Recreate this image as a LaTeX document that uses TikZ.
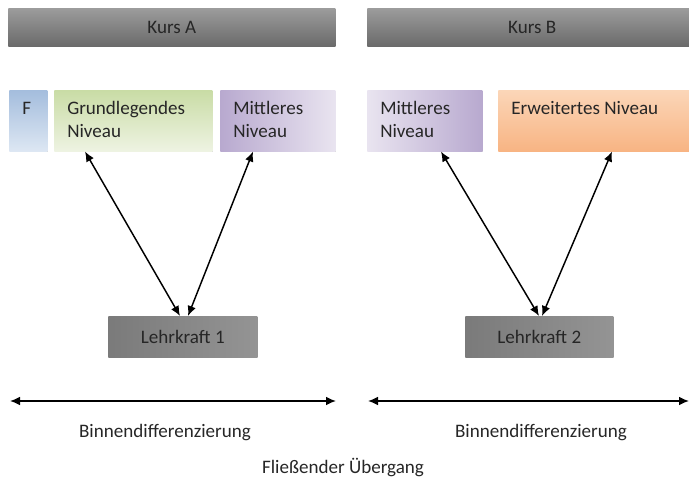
\documentclass[tikz,border=0pt]{standalone}
\usepackage{fontspec}
\setmainfont{Carlito}
\usetikzlibrary{arrows.meta,shadows}
\definecolor{txt}{HTML}{262626}
\definecolor{gTop}{HTML}{9C9C9C}
\definecolor{gMid}{HTML}{D4D4D4}
\definecolor{gBot}{HTML}{6A6A6A}
\definecolor{fTop}{HTML}{A4BDDD}
\definecolor{fBot}{HTML}{DDE7F3}
\definecolor{grTop}{HTML}{C9DCA5}
\definecolor{grBot}{HTML}{EEF3E2}
\definecolor{pTop}{HTML}{B8A9CF}
\definecolor{pBot}{HTML}{E9E4F0}
\definecolor{oTop}{HTML}{FBD6B8}
\definecolor{oBot}{HTML}{F8B483}
\begin{document}
\begin{tikzpicture}[x=0.75pt,y=-0.75pt,
  every node/.style={font=\fontsize{14.3}{17}\selectfont, text=txt},
  box/.style={draw=none, inner sep=0pt, anchor=north west,
    drop shadow={shadow xshift=0.8pt, shadow yshift=-0.8pt, opacity=0.3}},
  kurs/.style={box, top color=gTop, middle color=gMid, bottom color=gBot},
  lehr/.style={box, left color=black!52, middle color=black!15, right color=black!42},
  lbl/.style={anchor=north west, inner sep=0pt, align=left},
  arr/.style={line width=1.1pt, {Latex[length=7.5pt,width=6.5pt]}-{Latex[length=7.5pt,width=6.5pt]}}
]
\useasboundingbox (0,0) rectangle (689,484);

% course bars
\node[kurs, minimum width=327*0.75pt, minimum height=38*0.75pt] (kA) at (8,8) {};
\node at (kA.center) {Kurs A};
\node[kurs, minimum width=330*0.75pt, minimum height=38*0.75pt] (kB) at (367,8) {};
\node at (kB.center) {Kurs B};

% level boxes
\node[box, top color=fTop, bottom color=fBot, minimum width=38*0.75pt, minimum height=61*0.75pt] (F) at (9,90) {};
\node[lbl] (tF) at (22,102) {F};
\node[box, top color=grTop, bottom color=grBot, minimum width=158*0.75pt, minimum height=61*0.75pt] (gr) at (54,90) {};
\node[lbl] (tgr) at (67,101) {Grundlegendes\\Niveau};
\node[box, left color=pTop, right color=pBot, minimum width=115*0.75pt, minimum height=61*0.75pt] (mA) at (220,90) {};
\node[lbl] (tmA) at (233,101) {Mittleres\\Niveau};
\node[box, left color=pBot, right color=pTop, minimum width=115*0.75pt, minimum height=61*0.75pt] (mB) at (367,90) {};
\node[lbl] (tmB) at (380,101) {Mittleres\\Niveau};
\node[box, top color=oTop, bottom color=oBot, minimum width=200*0.75pt, minimum height=61*0.75pt] (er) at (498,90) {};
\node[lbl] (ter) at (511,101) {Erweitertes Niveau};

% teachers
\node[lehr, minimum width=149*0.75pt, minimum height=41*0.75pt] (L1) at (108,316) {};
\node at (L1.center) {Lehrkraft 1};
\node[lehr, minimum width=148*0.75pt, minimum height=41*0.75pt] (L2) at (465,316) {};
\node at (L2.center) {Lehrkraft 2};

% arrows
\draw[arr] (85,0 |- gr.south) -- (180,0 |- L1.north);
\draw[arr] (253,0 |- mA.south) -- (188,0 |- L1.north);
\draw[arr] (441,0 |- mB.south) -- (539,0 |- L2.north);
\draw[arr] (612,0 |- er.south) -- (542,0 |- L2.north);

% bottom
\coordinate (h1a) at (10,401);
\coordinate (h1b) at (336,401);
\coordinate (h2a) at (368,401);
\coordinate (h2b) at (689,401);
\draw[arr] (h1a) -- (h1b);
\draw[arr] (h2a) -- (h2b);
\node (b1) at (165,433) {Binnendifferenzierung};
\node (b2) at (541,433) {Binnendifferenzierung};
\node (fu) at (343,467) {Fließender Übergang};
\end{tikzpicture}
\end{document}
